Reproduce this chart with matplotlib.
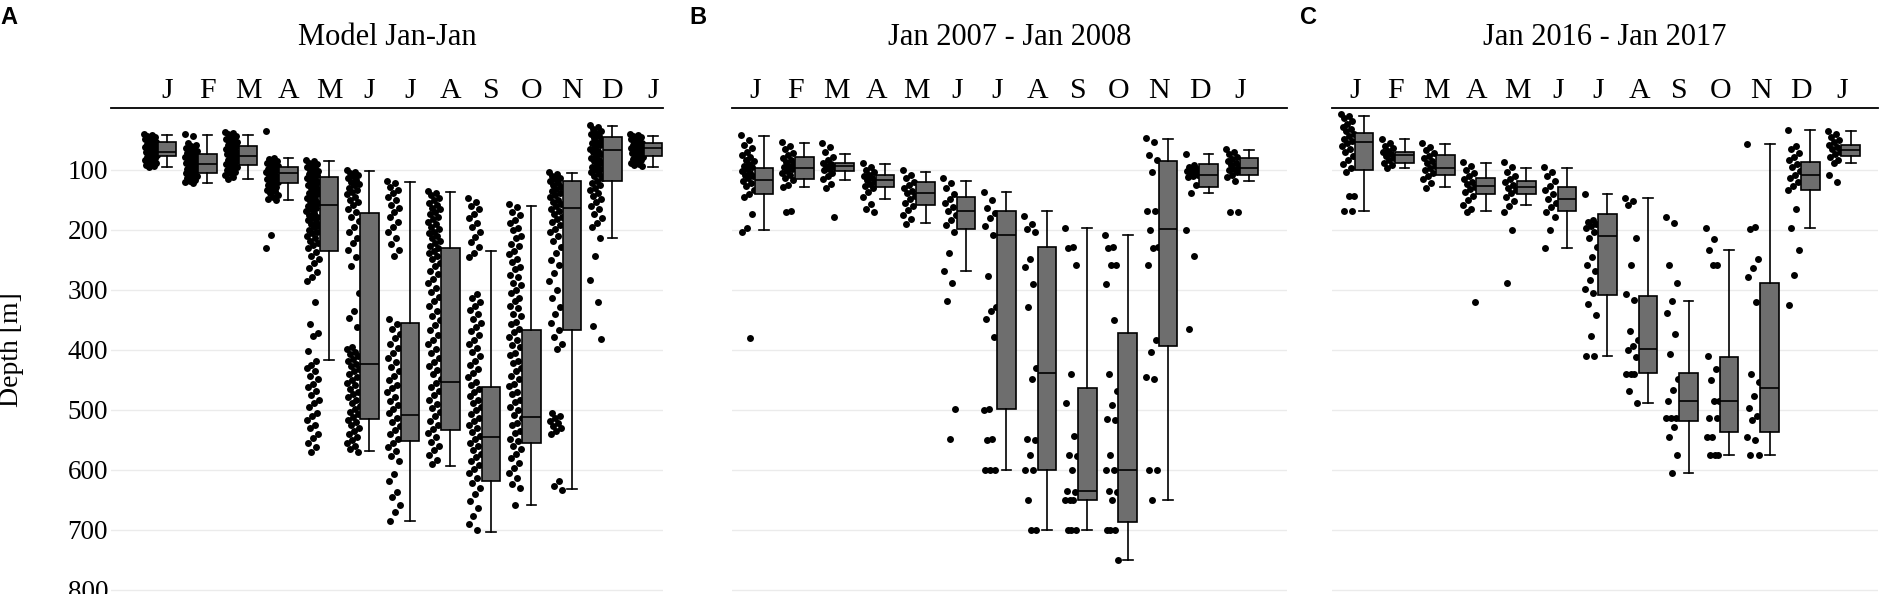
import numpy as np
import matplotlib.pyplot as plt

plt.rcParams['font.family'] = ['Liberation Serif', 'DejaVu Serif']

months = ['J', 'F', 'M', 'A', 'M', 'J', 'J', 'A', 'S', 'O', 'N', 'D', 'J']
titles = ['Model Jan-Jan', 'Jan 2007 - Jan 2008', 'Jan 2016 - Jan 2017']
letters = ['A', 'B', 'C']
depth_ticks = [100, 200, 300, 400, 500, 600, 700, 800]

# box stats per month: whisker low, q1, median, q3, whisker high (depth in m)
model_box = [
    [42, 54, 70, 77, 95], [42, 73, 91, 105, 122], [42, 60, 77, 92, 115],
    [81, 96, 105, 122, 151], [86, 112, 158, 236, 417], [102, 172, 423, 515, 569],
    [120, 356, 509, 552, 686], [137, 231, 453, 533, 593], [235, 462, 546, 618, 704],
    [161, 367, 512, 555, 658], [105, 119, 164, 367, 632], [27, 45, 67, 119, 213],
    [44, 55, 63, 77, 96],
]
y2007_box = [
    [43, 97, 117, 140, 200], [55, 78, 97, 116, 129], [73, 88, 93, 102, 117],
    [91, 108, 117, 129, 148], [103, 121, 138, 159, 188], [119, 146, 169, 198, 268],
    [137, 169, 208, 499, 600], [168, 228, 439, 600, 700], [197, 464, 636, 650, 700],
    [208, 372, 600, 687, 750], [48, 86, 198, 393, 650], [73, 91, 109, 128, 139],
    [67, 80, 97, 109, 118],
]
y2016_box = [
    [10, 38, 53, 100, 169], [49, 71, 76, 89, 97], [57, 76, 97, 109, 129],
    [88, 114, 127, 141, 169], [97, 119, 128, 140, 159], [97, 128, 149, 169, 230],
    [140, 173, 211, 309, 410], [147, 311, 398, 439, 489], [319, 439, 485, 518, 605],
    [233, 412, 485, 537, 575], [57, 288, 463, 537, 575], [34, 87, 108, 133, 197],
    [36, 59, 67, 77, 89],
]

# individual depth observations per month
model_pts = [
    [40, 42, 43, 46, 47, 49, 51, 52, 54, 56, 57, 59, 61, 62, 64, 65, 67, 69, 70, 72, 74, 75,
     77, 78, 80, 82, 83, 85, 87, 89, 90, 92, 94, 95],
    [40, 43, 55, 58, 60, 63, 64, 66, 69, 70, 72, 75, 76, 78, 81, 82, 84, 87, 88, 90, 93, 94,
     96, 99, 100, 102, 105, 106, 108, 111, 112, 114, 117, 118, 120, 122],
    [37, 39, 41, 44, 46, 48, 50, 53, 54, 56, 59, 60, 62, 65, 66, 68, 71, 72, 74, 77, 78, 80,
     83, 84, 86, 89, 90, 92, 95, 96, 98, 101, 103, 106, 109, 112, 115],
    [36, 80, 82, 85, 86, 88, 91, 92, 94, 97, 98, 100, 103, 104, 106, 109, 110, 112, 115, 116,
     118, 121, 123, 125, 128, 130, 133, 136, 139, 142, 145, 148, 150, 208, 231],
    [84, 86, 89, 90, 93, 95, 97, 100, 102, 104, 107, 109, 111, 114, 116, 119, 121, 123, 126,
     128, 131, 133, 136, 139, 141, 144, 147, 149, 152, 155, 157, 160, 163, 166, 169, 172, 175,
     178, 181, 184, 187, 190, 193, 196, 200, 203, 206, 210, 214, 218, 222, 226, 231, 237, 243,
     249, 256, 263, 271, 279, 286, 321, 357, 372, 377, 402, 419, 425, 431, 436, 444, 449, 457,
     462, 469, 475, 484, 489, 496, 505, 511, 517, 526, 531, 541, 547, 555, 562, 570],
    [100, 103, 105, 109, 111, 114, 117, 120, 123, 126, 130, 133, 137, 141, 145, 150, 154, 159,
     165, 171, 178, 186, 195, 203, 213, 222, 234, 246, 261, 306, 336, 347, 362, 396, 399, 404,
     407, 411, 416, 419, 424, 427, 432, 436, 441, 446, 450, 456, 459, 465, 470, 474, 479, 484,
     489, 493, 498, 503, 507, 512, 517, 521, 526, 531, 536, 540, 545, 550, 555, 560, 565, 571],
    [118, 122, 128, 133, 139, 146, 151, 158, 164, 171, 179, 187, 195, 204, 213, 223, 233, 244,
     349, 357, 366, 373, 381, 390, 397, 405, 413, 421, 429, 436, 443, 450, 458, 464, 471, 478,
     486, 492, 499, 506, 513, 520, 527, 534, 541, 548, 555, 562, 569, 577, 586, 607, 619, 637,
     646, 659, 671, 686],
    [135, 139, 142, 147, 150, 155, 158, 163, 166, 171, 174, 179, 182, 187, 190, 195, 198, 203,
     206, 211, 214, 219, 222, 227, 230, 235, 238, 244, 249, 256, 261, 268, 274, 282, 289, 297,
     304, 312, 319, 327, 335, 343, 351, 359, 367, 375, 383, 391, 399, 406, 413, 420, 427, 434,
     441, 448, 455, 462, 469, 476, 483, 490, 497, 504, 511, 518, 525, 532, 539, 546, 553, 560,
     567, 575, 583, 590],
    [147, 153, 160, 166, 173, 180, 188, 195, 203, 212, 221, 229, 238, 246, 307, 313, 320, 327,
     334, 341, 348, 355, 362, 369, 376, 383, 390, 397, 404, 411, 418, 425, 432, 439, 446, 453,
     459, 465, 471, 477, 483, 489, 495, 501, 507, 513, 519, 525, 531, 537, 543, 549, 555, 561,
     567, 573, 579, 585, 592, 599, 606, 614, 622, 631, 641, 652, 664, 677, 690, 701],
    [157, 162, 171, 175, 184, 188, 197, 201, 210, 214, 223, 227, 236, 240, 249, 253, 262, 266,
     275, 279, 288, 292, 301, 305, 314, 318, 327, 331, 340, 344, 353, 357, 366, 370, 379, 383,
     392, 396, 405, 409, 418, 422, 431, 435, 444, 448, 457, 461, 470, 474, 483, 487, 496, 500,
     509, 513, 522, 526, 535, 539, 548, 552, 561, 565, 574, 581, 589, 597, 606, 613, 624, 631,
     658],
    [104, 107, 110, 113, 116, 119, 122, 125, 129, 132, 135, 139, 142, 146, 150, 153, 157, 161,
     165, 169, 173, 178, 182, 187, 192, 198, 204, 211, 219, 228, 238, 251, 259, 272, 286, 301,
     314, 329, 341, 356, 367, 379, 391, 399, 505, 510, 514, 518, 522, 527, 531, 536, 541, 619,
     627, 633],
    [26, 29, 32, 35, 38, 41, 44, 47, 50, 53, 56, 59, 62, 65, 68, 71, 74, 77, 80, 83, 86, 89,
     92, 95, 98, 101, 104, 107, 110, 114, 118, 122, 126, 130, 134, 139, 144, 149, 154, 160,
     166, 173, 180, 188, 196, 213, 243, 284, 321, 361, 382],
    [40, 42, 44, 46, 48, 49, 51, 53, 55, 57, 58, 60, 62, 64, 65, 67, 69, 71, 72, 74, 76, 78,
     80, 82, 84, 86, 88, 90, 92, 94],
]
y2007_pts = [
    [42, 50, 58, 64, 70, 76, 79, 83, 86, 90, 93, 96, 99, 102, 105, 108, 111, 114, 118, 122,
     127, 133, 140, 146, 174, 197, 203, 380],
    [54, 60, 66, 72, 76, 80, 84, 87, 90, 93, 96, 99, 102, 105, 109, 113, 117, 125, 129, 169, 170],
    [56, 62, 70, 78, 84, 88, 91, 93, 95, 98, 101, 105, 110, 116, 124, 130, 179],
    [89, 95, 100, 104, 108, 111, 114, 117, 120, 123, 127, 131, 137, 145, 157, 165, 171],
    [101, 108, 114, 120, 125, 130, 135, 139, 144, 149, 155, 160, 167, 175, 182, 190],
    [114, 122, 131, 140, 148, 155, 162, 168, 175, 183, 192, 203, 238, 268, 288, 318, 499, 549],
    [137, 150, 164, 172, 181, 194, 208, 277, 328, 336, 349, 378, 499, 500, 549, 550, 600, 600, 600],
    [177, 190, 198, 204, 248, 262, 290, 328, 430, 448, 549, 550, 576, 600, 600, 650, 700, 700],
    [197, 229, 230, 258, 441, 488, 544, 576, 577, 600, 636, 637, 650, 650, 651, 700, 700, 700],
    [208, 229, 230, 258, 259, 290, 350, 441, 469, 492, 516, 517, 576, 600, 600, 636, 637, 650,
     700, 700, 701, 750],
    [47, 53, 76, 84, 103, 168, 169, 200, 229, 230, 258, 383, 403, 445, 448, 600, 600, 650],
    [73, 92, 95, 98, 100, 102, 104, 106, 108, 110, 112, 126, 139, 200, 243, 365],
    [66, 70, 74, 78, 82, 86, 89, 92, 95, 98, 101, 104, 108, 112, 118, 170, 171],
]
y2016_pts = [
    [7, 10, 14, 19, 24, 28, 32, 36, 40, 44, 48, 52, 56, 61, 66, 71, 77, 83, 90, 97, 104, 143,
     144, 169, 169],
    [49, 55, 60, 64, 68, 71, 74, 77, 80, 84, 88, 92, 97],
    [56, 62, 67, 72, 77, 81, 85, 89, 93, 97, 101, 105, 110, 116, 122, 130],
    [87, 94, 100, 106, 111, 116, 120, 124, 128, 132, 137, 143, 150, 158, 165, 171, 320],
    [87, 95, 103, 110, 116, 121, 126, 130, 134, 139, 145, 152, 160, 171, 200, 288],
    [95, 103, 111, 119, 127, 134, 141, 148, 155, 162, 170, 178, 200, 230],
    [140, 184, 187, 190, 193, 197, 203, 214, 229, 245, 258, 268, 283, 298, 305, 323, 342, 377,
     410, 410],
    [147, 152, 158, 214, 258, 307, 317, 368, 384, 393, 400, 412, 440, 440, 441, 469, 488],
    [178, 188, 258, 288, 319, 339, 373, 407, 448, 467, 485, 513, 513, 514, 529, 545, 575, 605],
    [197, 216, 233, 258, 259, 410, 432, 450, 485, 486, 513, 514, 545, 546, 575, 575, 576],
    [57, 195, 198, 248, 263, 278, 320, 440, 453, 477, 497, 511, 517, 545, 550, 575, 576],
    [34, 61, 66, 72, 78, 84, 90, 96, 102, 108, 114, 120, 127, 133, 165, 197, 234, 276, 325],
    [35, 40, 45, 50, 54, 58, 62, 66, 70, 74, 78, 83, 89, 108, 121],
]

W, H = 1879, 594
fig = plt.figure(figsize=(W / 100, H / 100), dpi=100)

# axes rectangles in pixels: left, right ; top line at y=108
panels = [
    (111, 663, model_box, model_pts, 0.0, (-1.38, 12.25), True),
    (732, 1287, y2007_box, y2007_pts, 0.22, (-0.57, 13.16), False),
    (1332, 1878, y2016_box, y2016_pts, 0.22, (-0.57, 12.89), False),
]
top = 108
letter_x = [0, 689, 1300]

for i, (x0, x1, box, pts, off, xlim, show_y) in enumerate(panels):
    ax = fig.add_axes([x0 / W, 0, (x1 - x0) / W, 1 - top / H])
    pos = np.arange(len(months))
    stats = [dict(whislo=b[0], q1=b[1], med=b[2], q3=b[3], whishi=b[4], fliers=[])
             for b in box]
    ax.bxp(stats, positions=pos + off, widths=0.46, capwidths=0.24, showfliers=False,
           patch_artist=True,
           boxprops=dict(facecolor='#6e6e6e', edgecolor='black', linewidth=1.2),
           medianprops=dict(color='black', linewidth=1.2),
           whiskerprops=dict(color='black', linewidth=1.2),
           capprops=dict(color='black', linewidth=1.2), zorder=3)
    # jittered points to the left of each box
    for m, vals in enumerate(pts):
        k = np.arange(len(vals))
        jit = ((k * 0.6180339887) % 1 - 0.5) * 0.32
        ax.scatter(pos[m] + off - 0.4 + jit, vals, s=25, color='black',
                   linewidths=0, zorder=2)

    ax.set_xlim(*xlim)
    ax.set_ylim(807, -3)
    ax.xaxis.tick_top()
    ax.set_xticks(pos)
    ax.set_xticklabels(months, fontsize=21.5)
    ax.tick_params(axis='x', length=0, pad=3)
    ax.set_yticks(depth_ticks)
    if show_y:
        ax.set_yticklabels([str(t) for t in depth_ticks], fontsize=19.5)
    else:
        ax.set_yticklabels([])
    ax.tick_params(axis='y', length=0, pad=2)
    ax.grid(axis='y', color='#ebebeb', linewidth=1.0, zorder=0)
    ax.set_axisbelow(True)
    for s in ['left', 'right', 'bottom']:
        ax.spines[s].set_visible(False)
    ax.spines['top'].set_linewidth(1.3)
    ax.patch.set_alpha(0)

    fig.text((x0 + x1) / 2 / W, 1 - 45 / H, titles[i], ha='center', va='baseline',
             fontsize=22)
    fig.text(letter_x[i] / W, 1 - 24 / H, letters[i], ha='left', va='baseline',
             fontsize=17, fontweight='bold', family=['Liberation Sans', 'DejaVu Sans'])

fig.text(12 / W, 1 - 350 / H, 'Depth [m]', rotation=90, ha='center', va='center',
         fontsize=20)

fig.savefig('out.png', dpi=100)
